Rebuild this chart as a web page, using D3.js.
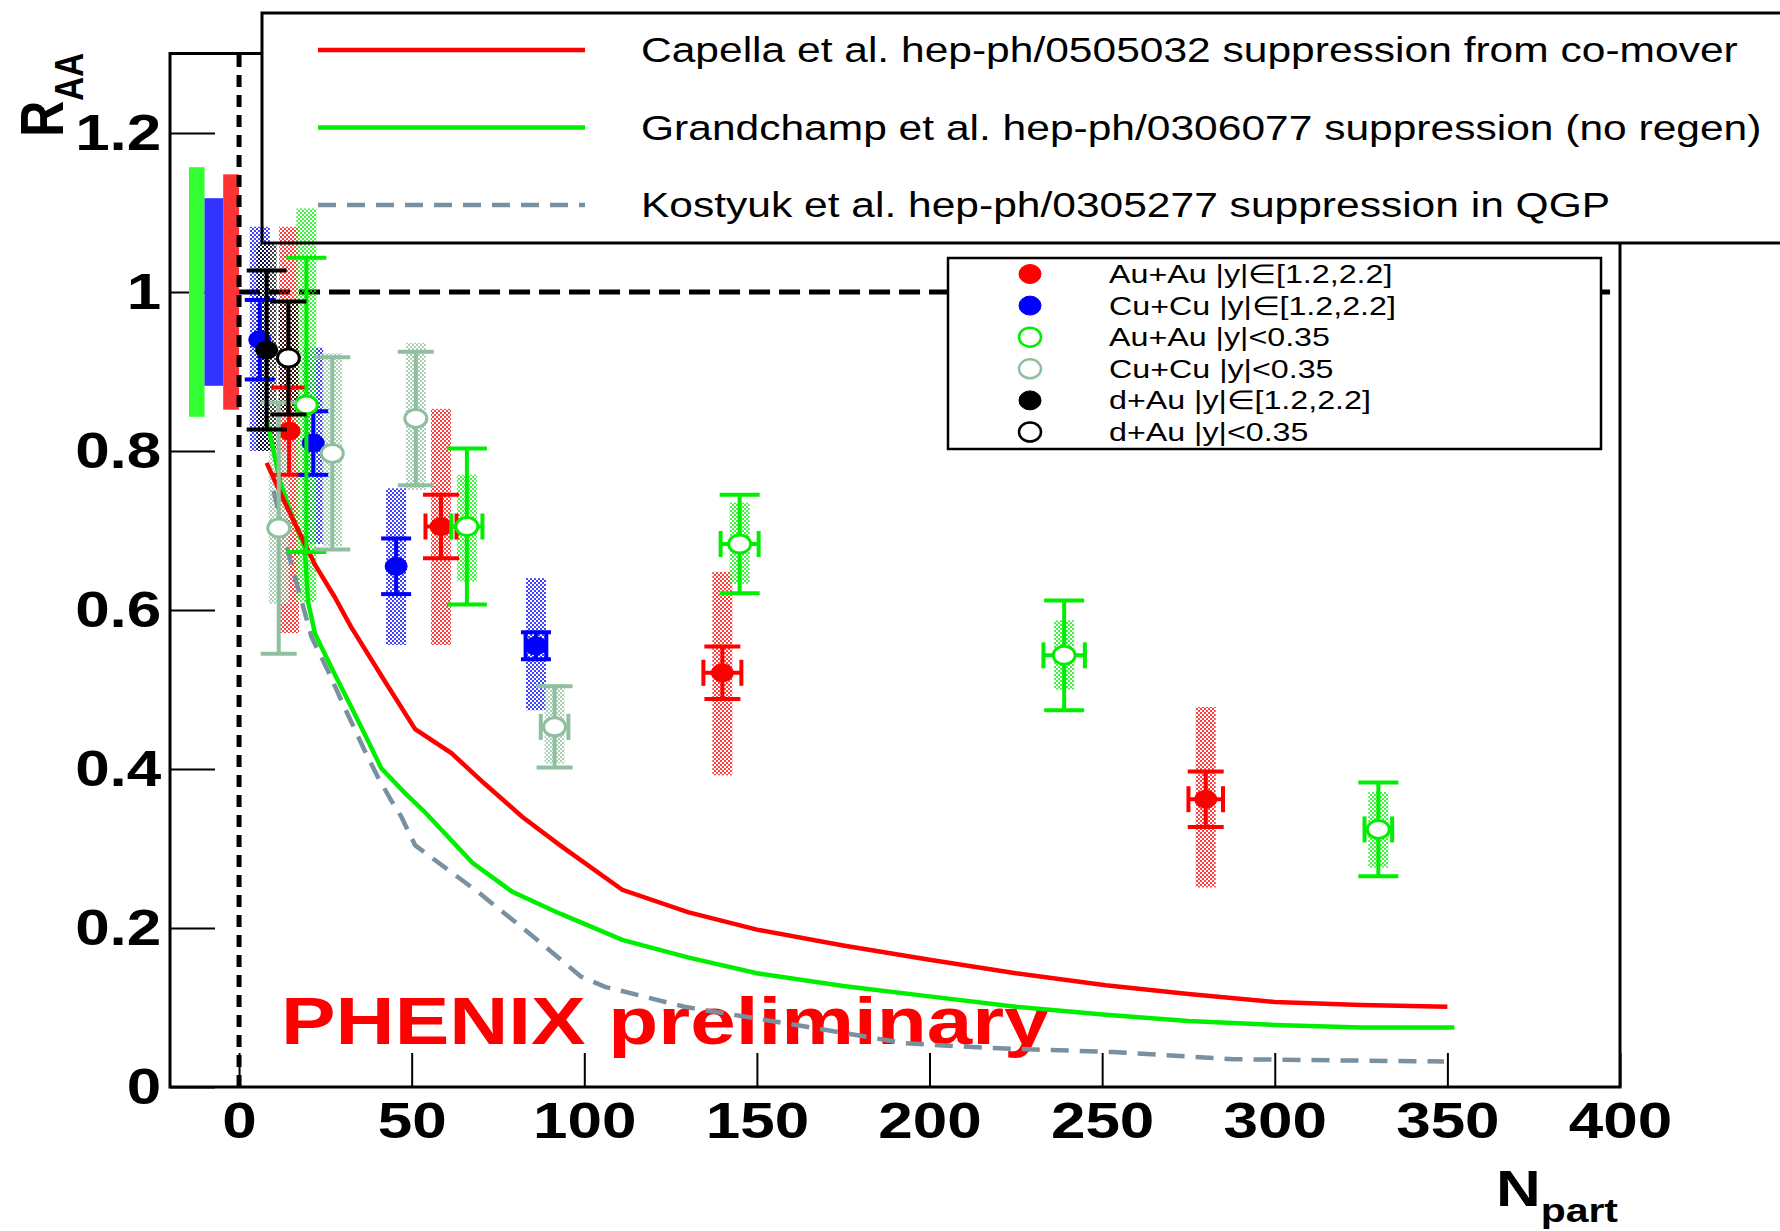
<!DOCTYPE html>
<html lang="en">
<head>
<meta charset="utf-8">
<title>J/psi R_AA vs Npart</title>
<script src="https://d3js.org/d3.v7.min.js"></script>
<style>
  body { margin: 0; background: #fff; }
  svg text { font-family: "Liberation Sans", Arial, Helvetica, sans-serif; }
</style>
</head>
<body>
<div id="chart"></div>
<script>
// ---- data ----
// model curves
var capellaNpart = [8, 12.4, 22, 27.6, 32.4, 42, 51, 61.5, 71, 82, 93, 111, 130, 150, 175, 200, 225, 251, 275, 300, 325, 350];
var capellaRaa   = [0.785, 0.743, 0.657, 0.617, 0.579, 0.512, 0.45, 0.42, 0.382, 0.34, 0.304, 0.248, 0.22, 0.198, 0.178, 0.16, 0.143, 0.128, 0.117, 0.107, 0.103, 0.101];

var grandNpart = [8, 12, 16, 19, 20, 22, 27.6, 32.5, 37.3, 41.2, 48, 54, 67.6, 79, 93, 111, 130, 150, 175, 200, 225, 251, 275, 300, 325, 352];
var grandRaa   = [0.84, 0.76, 0.71, 0.68, 0.61, 0.57, 0.52, 0.478, 0.436, 0.401, 0.37, 0.345, 0.282, 0.246, 0.218, 0.185, 0.163, 0.143, 0.127, 0.114, 0.101, 0.091, 0.083, 0.078, 0.075, 0.075];

var kostNpart = [10, 15, 21, 25.7, 30.5, 36.3, 40.2, 44, 47, 51, 69, 85, 99, 106, 129, 164, 193, 218, 253, 288, 349];
var kostRaa   = [0.75, 0.66, 0.566, 0.524, 0.478, 0.424, 0.39, 0.361, 0.34, 0.304, 0.246, 0.19, 0.139, 0.126, 0.101, 0.076, 0.055, 0.049, 0.044, 0.035, 0.032];

// Au+Au |y| in [1.2,2.2]
var auauFwdNpart = [14.5, 58.5, 140, 280];
var auauFwdRaa   = [0.825, 0.705, 0.521, 0.362];
var auauFwdStat  = [0.055, 0.040, 0.033, 0.035];
var auauFwdSysLo = [0.571, 0.556, 0.392, 0.251];
var auauFwdSysHi = [1.082, 0.853, 0.648, 0.478];
var auauFwdNerr  = [0, 4.5, 5.5, 5];

// Cu+Cu |y| in [1.2,2.2]
var cucuFwdNpart = [6, 21.5, 45.5, 86];
var cucuFwdRaa   = [0.94, 0.81, 0.655, 0.555];
var cucuFwdStat  = [0.05, 0.04, 0.035, 0.017];
var cucuFwdSysLo = [0.80, 0.683, 0.556, 0.474];
var cucuFwdSysHi = [1.082, 0.93, 0.753, 0.640];
var cucuFwdNerr  = [0, 0, 0, 3];

// Au+Au |y|<0.35
var auauMidNpart = [19.5, 66, 145, 239, 330];
var auauMidRaa   = [0.858, 0.705, 0.683, 0.543, 0.324];
var auauMidStat  = [0.185, 0.098, 0.062, 0.069, 0.059];
var auauMidSysLo = [0.61, 0.636, 0.633, 0.500, 0.276];
var auauMidSysHi = [1.105, 0.770, 0.735, 0.587, 0.371];
var auauMidNerr  = [0, 4.5, 5.5, 6, 4];

// Cu+Cu |y|<0.35
var cucuMidNpart = [11.5, 27, 51.2, 91.4];
var cucuMidRaa   = [0.703, 0.797, 0.841, 0.453];
var cucuMidStat  = [0.158, 0.121, 0.084, 0.051];
var cucuMidSysLo = [0.608, 0.68, 0.751, 0.407];
var cucuMidSysHi = [0.80, 0.923, 0.936, 0.507];
var cucuMidNerr  = [0, 0, 0, 4];

// d+Au
var dauFwdNpart = [8],    dauFwdRaa = [0.927], dauFwdStat = [0.10],  dauFwdSysLo = [0.80], dauFwdSysHi = [1.06], dauFwdNerr = [0];
var dauMidNpart = [14.3], dauMidRaa = [0.917], dauMidStat = [0.071], dauMidSysLo = [0.85], dauMidSysHi = [0.99], dauMidNerr = [0];

// global (normalisation) uncertainties drawn at left
var globalNames = ["Au+Au mid", "Cu+Cu", "Au+Au fwd"];
var globalFrom  = [-14.5, -10, -4.6];
var globalTo    = [-10, -4.6, 0];
var globalErr   = [0.157, 0.118, 0.148];

var xTickLabels = [0, 50, 100, 150, 200, 250, 300, 350, 400];
var yTickLabels = [0, 0.2, 0.4, 0.6, 0.8, 1, 1.2];

var modelLabels = ["Capella et al. hep-ph/0505032 suppression from co-mover",
                   "Grandchamp et al. hep-ph/0306077 suppression (no regen)",
                   "Kostyuk et al. hep-ph/0305277 suppression in QGP"];

// ---- drawing ----
var SX = 1.24;   // the figure's text is stretched horizontally
var RED = "#ff0000", BLUE = "#0000ff", GREEN = "#00ee00", GRAYG = "#8fbf9f", BLACK = "#000000", KOST = "#7890a0";

var svg = d3.select("#chart").append("svg")
    .attr("width", 1780).attr("height", 1231);
svg.append("rect").attr("width", 1780).attr("height", 1231).attr("fill", "#fff");

var x = d3.scaleLinear().domain([-20, 400]).range([170, 1620]);
var y = d3.scaleLinear().domain([0, 1.3]).range([1087, 53.5]);

function sText(parent, px, py, str, size, opts) {
    opts = opts || {};
    var g = parent.append("g").attr("transform", "translate(" + px + "," + py + ") scale(" + SX + ",1)" + (opts.rotate ? " rotate(" + opts.rotate + ")" : ""));
    var t = g.append("text").attr("font-size", size)
        .attr("font-weight", opts.bold ? "bold" : "normal")
        .attr("fill", opts.fill || "#000")
        .attr("text-anchor", opts.anchor || "start");
    if (str) t.text(str);
    return t;
}

var defs = svg.append("defs");
function hatch(id, color) {
    var p = defs.append("pattern").attr("id", id).attr("width", 4).attr("height", 4)
        .attr("patternUnits", "userSpaceOnUse");
    p.append("rect").attr("x", 0).attr("y", 0).attr("width", 2).attr("height", 2).attr("fill", color).attr("fill-opacity", 0.75);
    p.append("rect").attr("x", 2).attr("y", 2).attr("width", 2).attr("height", 2).attr("fill", color).attr("fill-opacity", 0.75);
}

var series = [
    {name: "Au+Au |y|\u2208[1.2,2.2]", color: RED,   open: false, cap: 18, n: auauFwdNpart, r: auauFwdRaa, s: auauFwdStat, lo: auauFwdSysLo, hi: auauFwdSysHi, ne: auauFwdNerr},
    {name: "Cu+Cu |y|\u2208[1.2,2.2]", color: BLUE,  open: false, cap: 15, n: cucuFwdNpart, r: cucuFwdRaa, s: cucuFwdStat, lo: cucuFwdSysLo, hi: cucuFwdSysHi, ne: cucuFwdNerr},
    {name: "Au+Au |y|<0.35",           color: GREEN, open: true,  cap: 20, n: auauMidNpart, r: auauMidRaa, s: auauMidStat, lo: auauMidSysLo, hi: auauMidSysHi, ne: auauMidNerr},
    {name: "Cu+Cu |y|<0.35",           color: GRAYG, open: true,  cap: 18, n: cucuMidNpart, r: cucuMidRaa, s: cucuMidStat, lo: cucuMidSysLo, hi: cucuMidSysHi, ne: cucuMidNerr},
    {name: "d+Au |y|\u2208[1.2,2.2]",  color: BLACK, open: false, cap: 20, n: dauFwdNpart,  r: dauFwdRaa,  s: dauFwdStat,  lo: dauFwdSysLo,  hi: dauFwdSysHi,  ne: dauFwdNerr},
    {name: "d+Au |y|<0.35",            color: BLACK, open: true,  cap: 18, n: dauMidNpart,  r: dauMidRaa,  s: dauMidStat,  lo: dauMidSysLo,  hi: dauMidSysHi,  ne: dauMidNerr}
];
series.forEach(function(s, i) { s.id = "h" + i; hatch(s.id, s.color); });

// axes
var xMinor = d3.range(-20, 401, 10).filter(function(v) { return v % 50 !== 0; });
var yMinor = d3.range(0, 1.26, 0.05).filter(function(v) { return Math.abs(v * 5 - Math.round(v * 5)) > 1e-6; });

var axX = svg.append("g").attr("transform", "translate(0," + y(0) + ")");
axX.call(d3.axisBottom(x).tickValues(xMinor).tickSize(-17).tickFormat(""));
axX.call(d3.axisBottom(x).tickValues(xTickLabels).tickSize(-34).tickSizeOuter(0).tickPadding(16));
var axY = svg.append("g").attr("transform", "translate(" + x(-20) + ",0)");
axY.call(d3.axisLeft(y).tickValues(yMinor).tickSize(-23).tickFormat(""));
axY.call(d3.axisLeft(y).tickValues(yTickLabels).tickSize(-45).tickSizeOuter(0).tickPadding(7)
    .tickFormat(function(d) { return d3.format("")(+d.toFixed(1)); }));
svg.selectAll(".domain").remove();
svg.selectAll(".tick line").attr("stroke", "#000").attr("stroke-width", 2);
svg.selectAll(".tick text").attr("font-size", 50).attr("font-weight", "bold")
    .attr("font-family", "Liberation Sans, Arial, sans-serif")
    .attr("transform", "scale(" + SX + ",1)");
axX.selectAll(".tick text").attr("dy", "0.71em");

// frame
svg.append("rect").attr("x", x(-20)).attr("y", y(1.3)).attr("width", x(400) - x(-20)).attr("height", y(0) - y(1.3))
    .attr("fill", "none").attr("stroke", "#000").attr("stroke-width", 3);

// axis titles
var ry = sText(svg, 63, 53, null, 50, {bold: true, rotate: -90, anchor: "end"});
ry.append("tspan").text("R");
ry.append("tspan").attr("font-size", 33).attr("dy", 16).text("AA");
var nx = sText(svg, 1618, 1206, null, 50, {bold: true, anchor: "end"});
nx.append("tspan").text("N");
nx.append("tspan").attr("font-size", 33).attr("dy", 16).text("part");

// global uncertainty boxes
var gColors = ["#33ff33", "#3333ff", "#ff3333"];
svg.selectAll(".gbox").data(globalNames).enter().append("rect")
    .attr("x", function(d, i) { return x(globalFrom[i]); })
    .attr("width", function(d, i) { return x(globalTo[i]) - x(globalFrom[i]); })
    .attr("y", function(d, i) { return y(1 + globalErr[i]); })
    .attr("height", function(d, i) { return y(1 - globalErr[i]) - y(1 + globalErr[i]); })
    .attr("fill", function(d, i) { return gColors[i]; });

// reference lines
svg.append("line").attr("x1", x(0)).attr("x2", x(0)).attr("y1", y(0)).attr("y2", y(1.3))
    .attr("stroke", "#000").attr("stroke-width", 5).attr("stroke-dasharray", "12,8");
svg.append("line").attr("x1", x(0)).attr("x2", x(400)).attr("y1", y(1)).attr("y2", y(1))
    .attr("stroke", "#000").attr("stroke-width", 5).attr("stroke-dasharray", "21,9");

// legend backgrounds
var lg1 = {x: 262, y: 13, w: 1540, h: 230};
var lg2 = {x: 948, y: 258, w: 653, h: 191};
[lg1, lg2].forEach(function(b) {
    svg.append("rect").attr("x", b.x).attr("y", b.y).attr("width", b.w).attr("height", b.h).attr("fill", "#fff");
});

// PHENIX preliminary
sText(svg, 281, 1044, "PHENIX preliminary", 66, {bold: true, fill: RED});

// systematic boxes
series.forEach(function(s) {
    svg.append("g").selectAll("rect").data(s.n).enter().append("rect")
        .attr("x", function(d) { return x(d) - 10; })
        .attr("width", 20)
        .attr("y", function(d, i) { return y(s.hi[i]); })
        .attr("height", function(d, i) { return y(s.lo[i]) - y(s.hi[i]); })
        .attr("fill", "url(#" + s.id + ")");
});

// model curves
function curve(nArr, rArr, color, dash) {
    var line = d3.line().x(function(d) { return x(d); }).y(function(d, i) { return y(rArr[i]); });
    svg.append("path").attr("d", line(nArr)).attr("fill", "none").attr("stroke", color)
        .attr("stroke-width", 4.5).attr("stroke-dasharray", dash || null);
}
curve(kostNpart, kostRaa, KOST, "18,11");
curve(grandNpart, grandRaa, GREEN);
curve(capellaNpart, capellaRaa, RED);

// error bars and markers
series.forEach(function(s) {
    var g = svg.append("g").attr("stroke", s.color).attr("stroke-width", 4);
    s.n.forEach(function(d, i) {
        var cx = x(d), cy = y(s.r[i]);
        var top = y(s.r[i] + s.s[i]), bot = y(s.r[i] - s.s[i]);
        g.append("line").attr("x1", cx).attr("x2", cx).attr("y1", top).attr("y2", bot);
        g.append("line").attr("x1", cx - s.cap).attr("x2", cx + s.cap).attr("y1", top).attr("y2", top);
        g.append("line").attr("x1", cx - s.cap).attr("x2", cx + s.cap).attr("y1", bot).attr("y2", bot);
        if (s.ne[i] > 0) {
            var l = x(d - s.ne[i]), r = x(d + s.ne[i]);
            g.append("line").attr("x1", l).attr("x2", r).attr("y1", cy).attr("y2", cy);
            g.append("line").attr("x1", l).attr("x2", l).attr("y1", cy - 13).attr("y2", cy + 13);
            g.append("line").attr("x1", r).attr("x2", r).attr("y1", cy - 13).attr("y2", cy + 13);
        }
        g.append("ellipse").attr("cx", cx).attr("cy", cy).attr("rx", 11).attr("ry", 9)
            .attr("fill", s.open ? "#fff" : s.color).attr("stroke-width", s.open ? 3 : 1);
    });
});

// legend 1: models
svg.append("rect").attr("x", lg1.x).attr("y", lg1.y).attr("width", lg1.w).attr("height", lg1.h)
    .attr("fill", "none").attr("stroke", "#000").attr("stroke-width", 3);
var mColors = [RED, GREEN, KOST], mDash = [null, null, "18,11"];
modelLabels.forEach(function(t, i) {
    var ly = 50 + i * 77.5;
    svg.append("line").attr("x1", 318).attr("x2", 585).attr("y1", ly).attr("y2", ly)
        .attr("stroke", mColors[i]).attr("stroke-width", 4.5).attr("stroke-dasharray", mDash[i]);
    sText(svg, 641, ly + 12, t, 34.3);
});

// legend 2: data sets
svg.append("rect").attr("x", lg2.x).attr("y", lg2.y).attr("width", lg2.w).attr("height", lg2.h)
    .attr("fill", "none").attr("stroke", "#000").attr("stroke-width", 2.5);
series.forEach(function(s, i) {
    var ly = 274 + i * 31.6;
    svg.append("ellipse").attr("cx", 1030).attr("cy", ly).attr("rx", 11).attr("ry", 9.5)
        .attr("fill", s.open ? "#fff" : s.color).attr("stroke", s.color).attr("stroke-width", s.open ? 2.5 : 1);
    sText(svg, 1109, ly + 9, s.name, 26);
});
</script>
</body>
</html>
